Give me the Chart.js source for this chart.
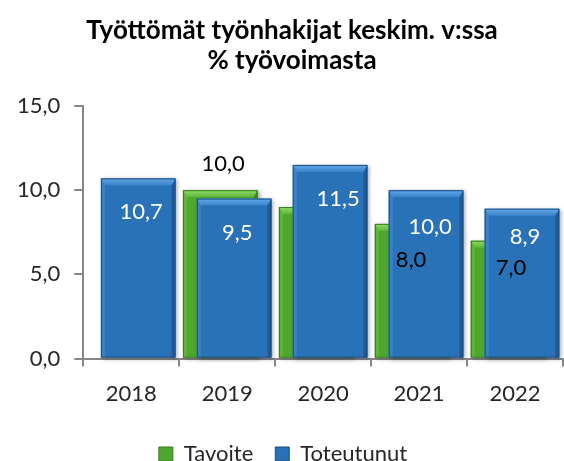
<!DOCTYPE html>
<html><head><meta charset="utf-8">
<script src="https://cdn.jsdelivr.net/npm/chart.js@4.4.1/dist/chart.umd.min.js"></script>
<style>html,body{margin:0;padding:0;background:#fff}</style>
</head><body>
<canvas id="c" width="564" height="461"></canvas>
<script>
// ---- data ----
const categories = ['2018', '2019', '2020', '2021', '2022'];
const tavoite = [null, 10.0, 9.0, 8.0, 7.0];
const toteutunut = [10.7, 9.5, 11.5, 10.0, 8.9];
const seriesNames = ['Tavoite', 'Toteutunut'];
const yTickValues = [0, 5, 10, 15];
const titleLines = ['Työttömät työnhakijat keskim. v:ssa', '% työvoimasta'];

// ---- style ----
const FONT = 'Lato';
const FS = 22;
const TEXT = '#262626';
const AXIS = '#868686';
const fmt = v => v.toFixed(1).replace('.', ',');
const palette = [
  { base: '#4ea72e', top: '#93dc67', left: '#5cb63a', right: '#3a8b20', edge: '#3a7a22' },
  { base: '#2a72b8', top: '#64a8e8', left: '#3a82c8', right: '#1f5a96', edge: '#1d4f80' }
];
const labelStyle = [
  { dx: [0, 3, 0, -1, 3], dy: [0, -26, null, 36, 27], color: '#000000' },
  { dx: [3, 3, 8, 4, 3], dy: [33, 34, 34, 37, 28], color: '#ffffff' }
];
const titleStyle = { font: 'bold 26px ' + FONT, x: 292, baselines: [39, 69], color: '#000000' };

function poly(ctx, pts, fill) {
  ctx.beginPath();
  ctx.moveTo(pts[0][0], pts[0][1]);
  for (let i = 1; i < pts.length; i++) ctx.lineTo(pts[i][0], pts[i][1]);
  ctx.closePath();
  ctx.fillStyle = fill;
  ctx.fill();
}

function drawBar(ctx, el, pal) {
  const { x, y, base, width } = el.getProps(['x', 'y', 'base', 'width'], true);
  if (!isFinite(y)) return;
  const x0 = x - width / 2, x1 = x + width / 2, y0 = y, y1 = base;
  const t = 7, s = 4;
  ctx.save();
  ctx.shadowColor = 'rgba(0,0,0,0.35)';
  ctx.shadowBlur = 4; ctx.shadowOffsetX = 2; ctx.shadowOffsetY = 1;
  ctx.fillStyle = pal.base;
  ctx.fillRect(x0, y0, width, y1 - y0);
  ctx.restore();
  poly(ctx, [[x0, y0], [x0 + s, y0 + t], [x0 + s, y1], [x0, y1]], pal.left);
  poly(ctx, [[x1, y0], [x1 - s, y0 + t], [x1 - s, y1], [x1, y1]], pal.right);
  const g = ctx.createLinearGradient(0, y0, 0, y0 + t);
  g.addColorStop(0, pal.top); g.addColorStop(1, pal.left);
  poly(ctx, [[x0, y0], [x1, y0], [x1 - s, y0 + t], [x0 + s, y0 + t]], g);
  ctx.strokeStyle = pal.edge; ctx.lineWidth = 1;
  ctx.strokeRect(x0 + 0.5, y0 + 0.5, width - 1, y1 - y0 - 1);
}

const bevelPlugin = {
  id: 'bevel',
  beforeDatasetsDraw(chart) {
    const ctx = chart.ctx;
    [0, 1].forEach(di => {
      chart.getDatasetMeta(di).data.forEach((el, i) => {
        if (chart.data.datasets[di].data[i] == null) return;
        drawBar(ctx, el, palette[di]);
      });
    });
    ctx.save();
    ctx.font = FS + 'px ' + FONT;
    ctx.textAlign = 'center';
    ctx.textBaseline = 'middle';
    [0, 1].forEach(di => {
      const ds = chart.data.datasets[di];
      chart.getDatasetMeta(di).data.forEach((el, i) => {
        const v = ds.data[i];
        const st = labelStyle[di];
        if (v == null || st.dy[i] == null) return;
        const { x, y } = el.getProps(['x', 'y'], true);
        ctx.fillStyle = st.color;
        ctx.fillText(fmt(v), x + st.dx[i], y + st.dy[i]);
      });
    });
    ctx.restore();
    return false;
  },
  afterDraw(chart) {
    const ctx = chart.ctx;
    ctx.save();
    ctx.font = titleStyle.font;
    ctx.fillStyle = titleStyle.color;
    ctx.textAlign = 'center';
    ctx.textBaseline = 'alphabetic';
    titleLines.forEach((t, i) => ctx.fillText(t, titleStyle.x, titleStyle.baselines[i]));
    ctx.restore();
  }
};

function build() {
  new Chart(document.getElementById('c'), {
    type: 'bar',
    data: {
      labels: categories,
      datasets: [
        { label: seriesNames[0], data: tavoite, backgroundColor: palette[0].base, borderColor: palette[0].edge, borderWidth: 1,
          categoryPercentage: 0.29, barPercentage: 5.36 },
        { label: seriesNames[1], data: toteutunut, backgroundColor: palette[1].base, borderColor: palette[1].edge, borderWidth: 1,
          categoryPercentage: 0.29, barPercentage: 5.36 }
      ]
    },
    options: {
      responsive: false,
      animation: false,
      devicePixelRatio: 1,
      layout: { padding: { left: 3, right: 1, top: 106, bottom: -14 } },
      plugins: {
        tooltip: { enabled: false },
        title: { display: false },
        legend: {
          position: 'bottom',
          labels: { font: { family: FONT, size: FS }, color: TEXT, boxWidth: 14, boxHeight: 14, padding: 22 }
        }
      },
      scales: {
        x: {
          grid: { display: true, drawOnChartArea: false, drawTicks: true, tickLength: 8, color: AXIS, lineWidth: 2, offset: true },
          border: { display: true, color: AXIS, width: 2 },
          ticks: { font: { family: FONT, size: FS }, color: TEXT, padding: 14 }
        },
        y: {
          min: 0, max: 15,
          afterBuildTicks: s => { s.ticks = yTickValues.map(v => ({ value: v })); },
          grid: { display: true, drawOnChartArea: false, drawTicks: true, tickLength: 9, color: AXIS, lineWidth: 2 },
          border: { display: true, color: AXIS, width: 2 },
          ticks: { font: { family: FONT, size: FS }, color: TEXT, padding: 14, callback: v => fmt(v) }
        }
      }
    },
    plugins: [bevelPlugin]
  });
}
Promise.all([document.fonts.load(FS + 'px Lato'), document.fonts.load('bold 26px Lato')]).then(build, build);
</script>
</body></html>
